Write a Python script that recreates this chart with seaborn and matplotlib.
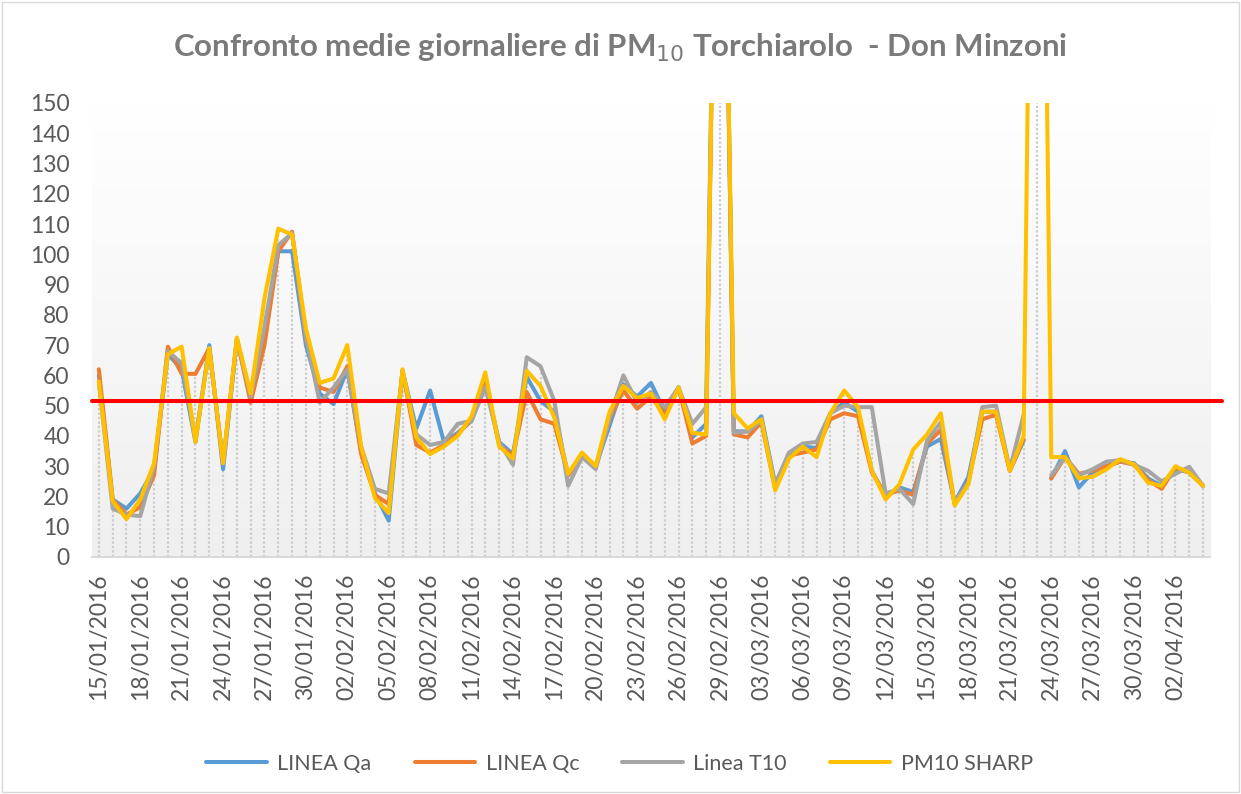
import numpy as np
import pandas as pd
import matplotlib
matplotlib.use("Agg")
import matplotlib.pyplot as plt
import seaborn as sns
from matplotlib.colors import LinearSegmentedColormap

# ── Data ──────────────────────────────────────────────────────────────────────
dates = pd.date_range("2016-01-15", "2016-04-04").strftime("%d/%m/%Y").tolist()
nan = np.nan

linea_qa = [60, 19, 16, 21, 29, 67, 62, 38, 70, 29,
            72, 53, 72, 101, 101, 70, 54, 50.5, 62, 35,
            21, 12, 61.5, 42.5, 55, 38, 41, 45, 58, 38,
            34, 59.5, 51.5, 48, 27, 34, 30, 43.5, 57, 53,
            57.5, 48, 56, 39.5, 44, 330, 41.5, 41.5, 46.5, 24,
            34, 36.5, 36, 47.5, 51, 48, 28.5, 20, 23, 21.5,
            36.5, 39, 18, 26.5, 48, 48, 28.5, 38.5, nan, 26,
            35, 23, 28, 30, 31.5, 31, 26, 23.5, 29, 28, 23.5]
linea_qc = [62, 19, 14, 16.5, 27, 69.5, 60.5, 60.5, 69, 31,
            72, 51, 70, 101, 107.5, 72, 56, 54.5, 63, 34,
            20.5, 17.5, 61.5, 37, 34.5, 37, 40.5, 45.5, 58, 37,
            33.5, 54.5, 45.5, 44, 27, 34, 30, 45.5, 55, 49,
            53, 47, 56, 37.5, 40, 330, 40.5, 39.5, 44.5, 22.5,
            33.5, 34.5, 35.5, 45.5, 47.5, 46.5, 28, 20.5, 22, 20.5,
            37.5, 42, 17.5, 25, 45.5, 47, 28.5, 39, nan, 26,
            33, 27.5, 28.5, 30, 31.5, 30.5, 25.5, 22.5, 29.5, 28, 23.5]
linea_t10 = [58, 16, 14, 13.5, 30, 68, 64, 39, 69, 31,
             72, 53, 76, 103, 107, 73, 51, 56, 62, 36.5,
             22.5, 21, 61.5, 40.5, 37, 38, 44, 45, 56, 38,
             30.5, 66, 63, 51.5, 23.5, 33, 29, 46, 60, 51,
             54.5, 49.5, 56, 44, 49.5, 330, 41, 41.5, 45, 24,
             34.5, 37.5, 38, 47.5, 50, 49.5, 49.5, 21, 22.5, 17.5,
             38.5, 44.5, 18, 24.5, 49.5, 50, 29, 47, nan, 27,
             33, 27, 29, 31.5, 32, 30.5, 28.5, 25, 27.5, 29.8, 23.5]
pm10_sharp = [58, 18.5, 12.5, 19, 31, 67, 69.5, 38, 69, 31,
              72.5, 54, 85.5, 108.5, 106.5, 75.5, 57.5, 59, 70, 36.5,
              19.5, 14.5, 62, 39.5, 34, 36.5, 40, 46.5, 61, 36.5,
              32.5, 61.5, 56.5, 46, 27.5, 34.5, 30, 48, 56.5, 52.5,
              54, 45.5, 56, 41, 40.5, 330, 47.5, 42.5, 45.5, 22,
              32.5, 36.5, 33, 47.5, 55, 49.5, 28.5, 19, 24, 35.5,
              40.5, 47.5, 17, 24, 48, 48, 28.5, 40, 420, 33,
              33, 26, 26.5, 29, 32.3, 30.6, 24.6, 23.5, 30, 27.8, 23.5]

series_names = ["LINEA Qa", "LINEA Qc", "Linea T10", "PM10 SHARP"]
series_values = [linea_qa, linea_qc, linea_t10, pm10_sharp]
colors = ["#5B9BD5", "#ED7D31", "#A5A5A5", "#FFC000"]
limit_value = 51.5

# long form table, split into segments where a value is missing
frames = []
for name, vals in zip(series_names, series_values):
    v = np.array(vals, dtype=float)
    seg = np.cumsum(np.isnan(v))
    frames.append(pd.DataFrame({"idx": np.arange(len(v)), "value": v,
                                "serie": name, "seg": seg}))
df = pd.concat(frames).dropna(subset=["value"])

# ── Plot ──────────────────────────────────────────────────────────────────────
sns.set_theme(style="white")
plt.rcParams["font.family"] = ["Lato", "DejaVu Sans"]
text_grey = "#595959"

fig = plt.figure(figsize=(12.41, 7.94), dpi=100)
ax = fig.add_axes([0.0741, 0.2985, 0.9009, 0.5718])

# plot-area gradient (white at top, light grey at bottom)
grad = LinearSegmentedColormap.from_list("g", ["#ffffff", "#efefef"])
ax.imshow(np.linspace(0, 1, 256).reshape(-1, 1), cmap=grad, aspect="auto",
          extent=(-0.5, len(dates) - 0.5, 0, 150), origin="upper", zorder=0)

# drop lines
tops = np.nanmax(np.array(series_values, dtype=float), axis=0)
ax.vlines(np.arange(len(dates)), 0, tops, colors="#cbcbcb",
          linestyles=(0, (1, 1)), linewidth=1.6, zorder=1)

sns.lineplot(data=df, x="idx", y="value", hue="serie", units="seg",
             estimator=None, hue_order=series_names, palette=colors,
             linewidth=2.9, ax=ax, zorder=3)

# limit line
ax.plot([-0.5, len(dates) + 0.4], [limit_value, limit_value], color="#ff0000",
        linewidth=2.9, clip_on=False, zorder=4)

ax.set_xlim(-0.5, len(dates) - 0.5)
ax.set_ylim(0, 150)
ax.set_yticks(range(0, 151, 10))
ax.set_xticks(range(0, len(dates), 3))
ax.set_xticklabels(dates[::3], rotation=90)
ax.tick_params(axis="both", length=0, labelsize=16.5, labelcolor=text_grey)
ax.tick_params(axis="x", pad=12)
ax.tick_params(axis="y", pad=16)
ax.set_xlabel("")
ax.set_ylabel("")
for s in ["top", "right", "left"]:
    ax.spines[s].set_visible(False)
ax.spines["bottom"].set_color("#d9d9d9")
ax.spines["bottom"].set_linewidth(1.5)
ax.set_facecolor("white")

fig.text(0.5, 0.94, "Confronto medie giornaliere di PM$_{10}$ Torchiarolo  - Don Minzoni",
         ha="center", va="center", fontsize=22.5, fontweight="bold", color="#7a7a7a")

sns.move_legend(ax, "center", bbox_to_anchor=(0.472, -0.455), ncol=4,
                frameon=False, title=None, fontsize=15.5,
                handlelength=2.8, handletextpad=0.5, columnspacing=2.0)
for t in ax.get_legend().get_texts():
    t.set_color(text_grey)

# chart border
fig.patches.append(plt.Rectangle((0.002, 0.002), 0.996, 0.996, fill=False,
                                 edgecolor="#d9d9d9", linewidth=1,
                                 transform=fig.transFigure))

fig.savefig("out.png", dpi=100)
